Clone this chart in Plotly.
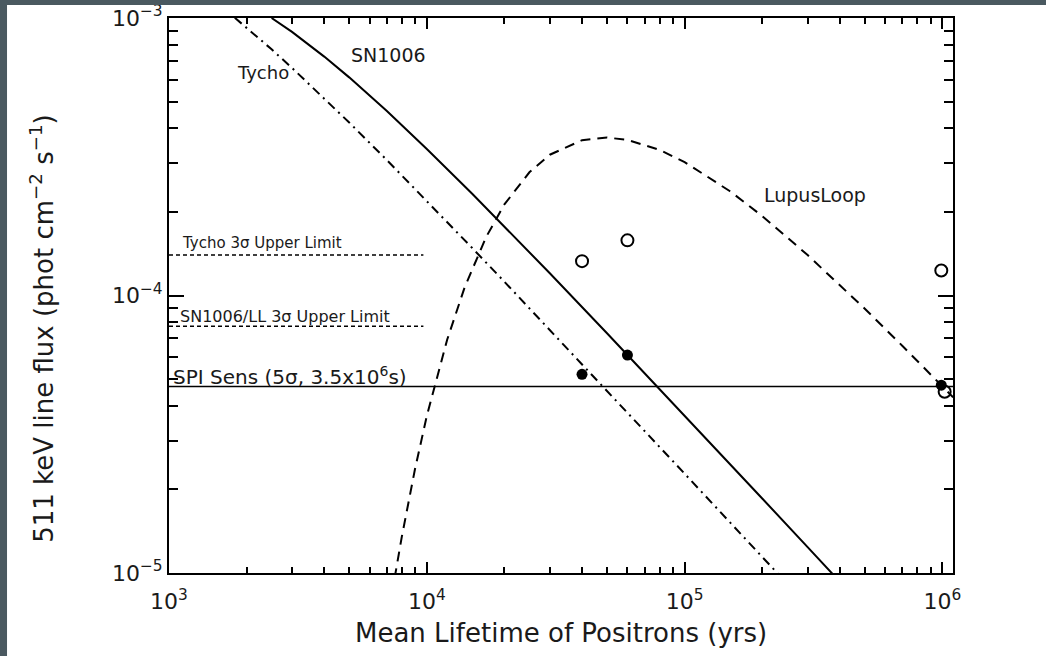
import math
import plotly.graph_objects as go

# ---------------- data ----------------
sn1006_tau = [2500, 3000, 4000, 5000, 7000, 1e4, 1.5e4, 2e4, 3e4, 5e4, 7e4, 1e5, 1.5e5, 2e5, 3e5, 4e5]
sn1006_flux = [1.000e-3, 8.91e-4, 7.26e-4, 6.11e-4, 4.62e-4, 3.375e-4, 2.326e-4, 1.774e-4, 1.203e-4,
               7.31e-5, 5.25e-5, 3.69e-5, 2.47e-5, 1.856e-5, 1.239e-5, 9.30e-6]

tycho_tau = [1800, 2000, 2500, 3000, 4000, 5000, 7000, 1e4, 1.5e4, 2e4, 3e4, 5e4, 7e4, 1e5, 1.5e5, 2.3e5]
tycho_flux = [1.002e-3, 9.23e-4, 7.71e-4, 6.61e-4, 5.14e-4, 4.20e-4, 3.076e-4, 2.194e-4, 1.483e-4,
              1.121e-4, 7.52e-5, 4.54e-5, 3.25e-5, 2.28e-5, 1.522e-5, 9.94e-6]

lupus_tau = [7500, 8000, 9000, 1e4, 1.2e4, 1.4e4, 1.7e4, 2e4, 2.5e4, 3e4, 4e4, 5e4, 6e4, 8e4, 1e5,
             1.5e5, 2e5, 3e5, 5e5, 7e5, 1e6, 1.1e6]
lupus_flux = [9.58e-6, 1.352e-5, 2.37e-5, 3.68e-5, 6.94e-5, 1.066e-4, 1.627e-4, 2.13e-4, 2.78e-4,
              3.216e-4, 3.628e-4, 3.708e-4, 3.638e-4, 3.347e-4, 3.026e-4, 2.375e-4, 1.933e-4,
              1.399e-4, 8.96e-5, 6.58e-5, 4.70e-5, 4.295e-5]

filled_tau = [4.0e4, 6.0e4, 9.9e5]
filled_flux = [5.2e-5, 6.1e-5, 4.75e-5]

open_tau = [4.0e4, 6.0e4, 9.9e5, 1.02e6]
open_flux = [1.33e-4, 1.58e-4, 1.23e-4, 4.5e-5]

limit_tau = [1e3, 9.7e3]
tycho_limit = 1.4e-4
sn1006_ll_limit = 7.75e-5
spi_tau = [1e3, 1.1e6]
spi_sens = 4.7e-5

x_tickvals = [1e3, 1e4, 1e5, 1e6]
x_ticktext = ["10<sup>3</sup>", "10<sup>4</sup>", "10<sup>5</sup>", "10<sup>6</sup>"]
y_tickvals = [1e-5, 1e-4, 1e-3]
y_ticktext = ["10<sup>\u22125</sup>", "10<sup>\u22124</sup>", "10<sup>\u22123</sup>"]

x_minor = [k * 10 ** e for e in (3, 4, 5) for k in range(2, 10)]
y_minor = [k * 10.0 ** e for e in (-5, -4) for k in range(2, 10)]

# ---------------- figure ----------------
FONT = "DejaVu Sans"
INK = "#1a1a1a"

fig = go.Figure()

fig.add_trace(go.Scatter(x=sn1006_tau, y=sn1006_flux, mode="lines",
                         line=dict(color="black", width=2), showlegend=False))
fig.add_trace(go.Scatter(x=tycho_tau, y=tycho_flux, mode="lines",
                         line=dict(color="black", width=2, dash="9px,5px,2px,5px"), showlegend=False))
fig.add_trace(go.Scatter(x=lupus_tau, y=lupus_flux, mode="lines",
                         line=dict(color="black", width=2, dash="10px,7px"), showlegend=False))
fig.add_trace(go.Scatter(x=limit_tau, y=[tycho_limit, tycho_limit], mode="lines",
                         line=dict(color="black", width=1.5, dash="4px,3px"), showlegend=False))
fig.add_trace(go.Scatter(x=limit_tau, y=[sn1006_ll_limit, sn1006_ll_limit], mode="lines",
                         line=dict(color="black", width=1.5, dash="4px,3px"), showlegend=False))
fig.add_trace(go.Scatter(x=spi_tau, y=[spi_sens, spi_sens], mode="lines",
                         line=dict(color="black", width=1.5), showlegend=False))
fig.add_trace(go.Scatter(x=open_tau, y=open_flux, mode="markers", cliponaxis=False,
                         marker=dict(symbol="circle-open", size=12, color="black",
                                     line=dict(width=2, color="black")), showlegend=False))
fig.add_trace(go.Scatter(x=filled_tau, y=filled_flux, mode="markers", cliponaxis=False,
                         marker=dict(symbol="circle", size=11, color="black"), showlegend=False))

axis_common = dict(type="log", showgrid=False, zeroline=False, showline=True, linecolor="black",
                   linewidth=2, mirror="ticks", ticks="inside", tickcolor="black", tickwidth=1.5,
                   automargin=False,
                   tickmode="array", tickfont=dict(family=FONT, size=22, color=INK))

fig.update_xaxes(**axis_common, range=[3, 6.041], tickvals=x_tickvals, ticktext=x_ticktext,
                 ticklen=11, ticklabelstandoff=8,
                 minor=dict(tickmode="array", tickvals=x_minor, ticks="inside", ticklen=6,
                            tickcolor="black", tickwidth=1.5, showgrid=False))
fig.update_yaxes(**axis_common, range=[-5, -3], tickvals=y_tickvals, ticktext=y_ticktext,
                 ticklen=15,
                 minor=dict(tickmode="array", tickvals=y_minor, ticks="inside", ticklen=9,
                            tickcolor="black", tickwidth=1.5, showgrid=False))

ann = []
def label(x, y, text, size, xanchor="center", xref="x", yref="y", angle=0):
    ann.append(dict(x=x, y=y, xref=xref, yref=yref, text=text, showarrow=False,
                    xanchor=xanchor, yanchor="middle", textangle=angle,
                    font=dict(family=FONT, size=size, color=INK)))

lx = math.log10
label(lx(2312), lx(6.34e-4), "Tycho", 18)
label(lx(7130), lx(7.36e-4), "SN1006", 19)
label(lx(3.19e5), lx(2.30e-4), "LupusLoop", 19)
label(lx(1103), lx(1.545e-4), "Tycho 3\u03c3 Upper Limit", 15, xanchor="left")
label(lx(1084), lx(8.37e-5), "SN1006/LL 3\u03c3 Upper Limit", 16, xanchor="left")
label(lx(1018), lx(5.13e-5), "SPI Sens (5\u03c3, 3.5x10<sup>6</sup>s)", 20, xanchor="left")
label(0.5, -0.108, "Mean Lifetime of Positrons (yrs)", 26, xref="paper", yref="paper")
label(-0.162, 0.44, "511 keV line flux (phot cm<sup>\u22122</sup> s<sup>\u22121</sup>)", 26,
      xref="paper", yref="paper", angle=-90)

strip = "#4a5960"
shapes = [
    dict(type="rect", xref="paper", yref="paper", x0=-0.2156, x1=-0.2066, y0=-0.1496, y1=1.0325,
         fillcolor=strip, line=dict(width=0)),
    dict(type="rect", xref="paper", yref="paper", x0=-0.2156, x1=1.1187, y0=1.0234, y1=1.0325,
         fillcolor=strip, line=dict(width=0)),
]

fig.update_layout(width=1046, height=656, margin=dict(l=169, r=93, t=18, b=83, autoexpand=False),
                  paper_bgcolor="white", plot_bgcolor="white",
                  annotations=ann, shapes=shapes, showlegend=False)

fig.write_html("out.html", config={"displayModeBar": False},
               post_script="document.body.style.margin='0';document.body.style.overflow='hidden';")
